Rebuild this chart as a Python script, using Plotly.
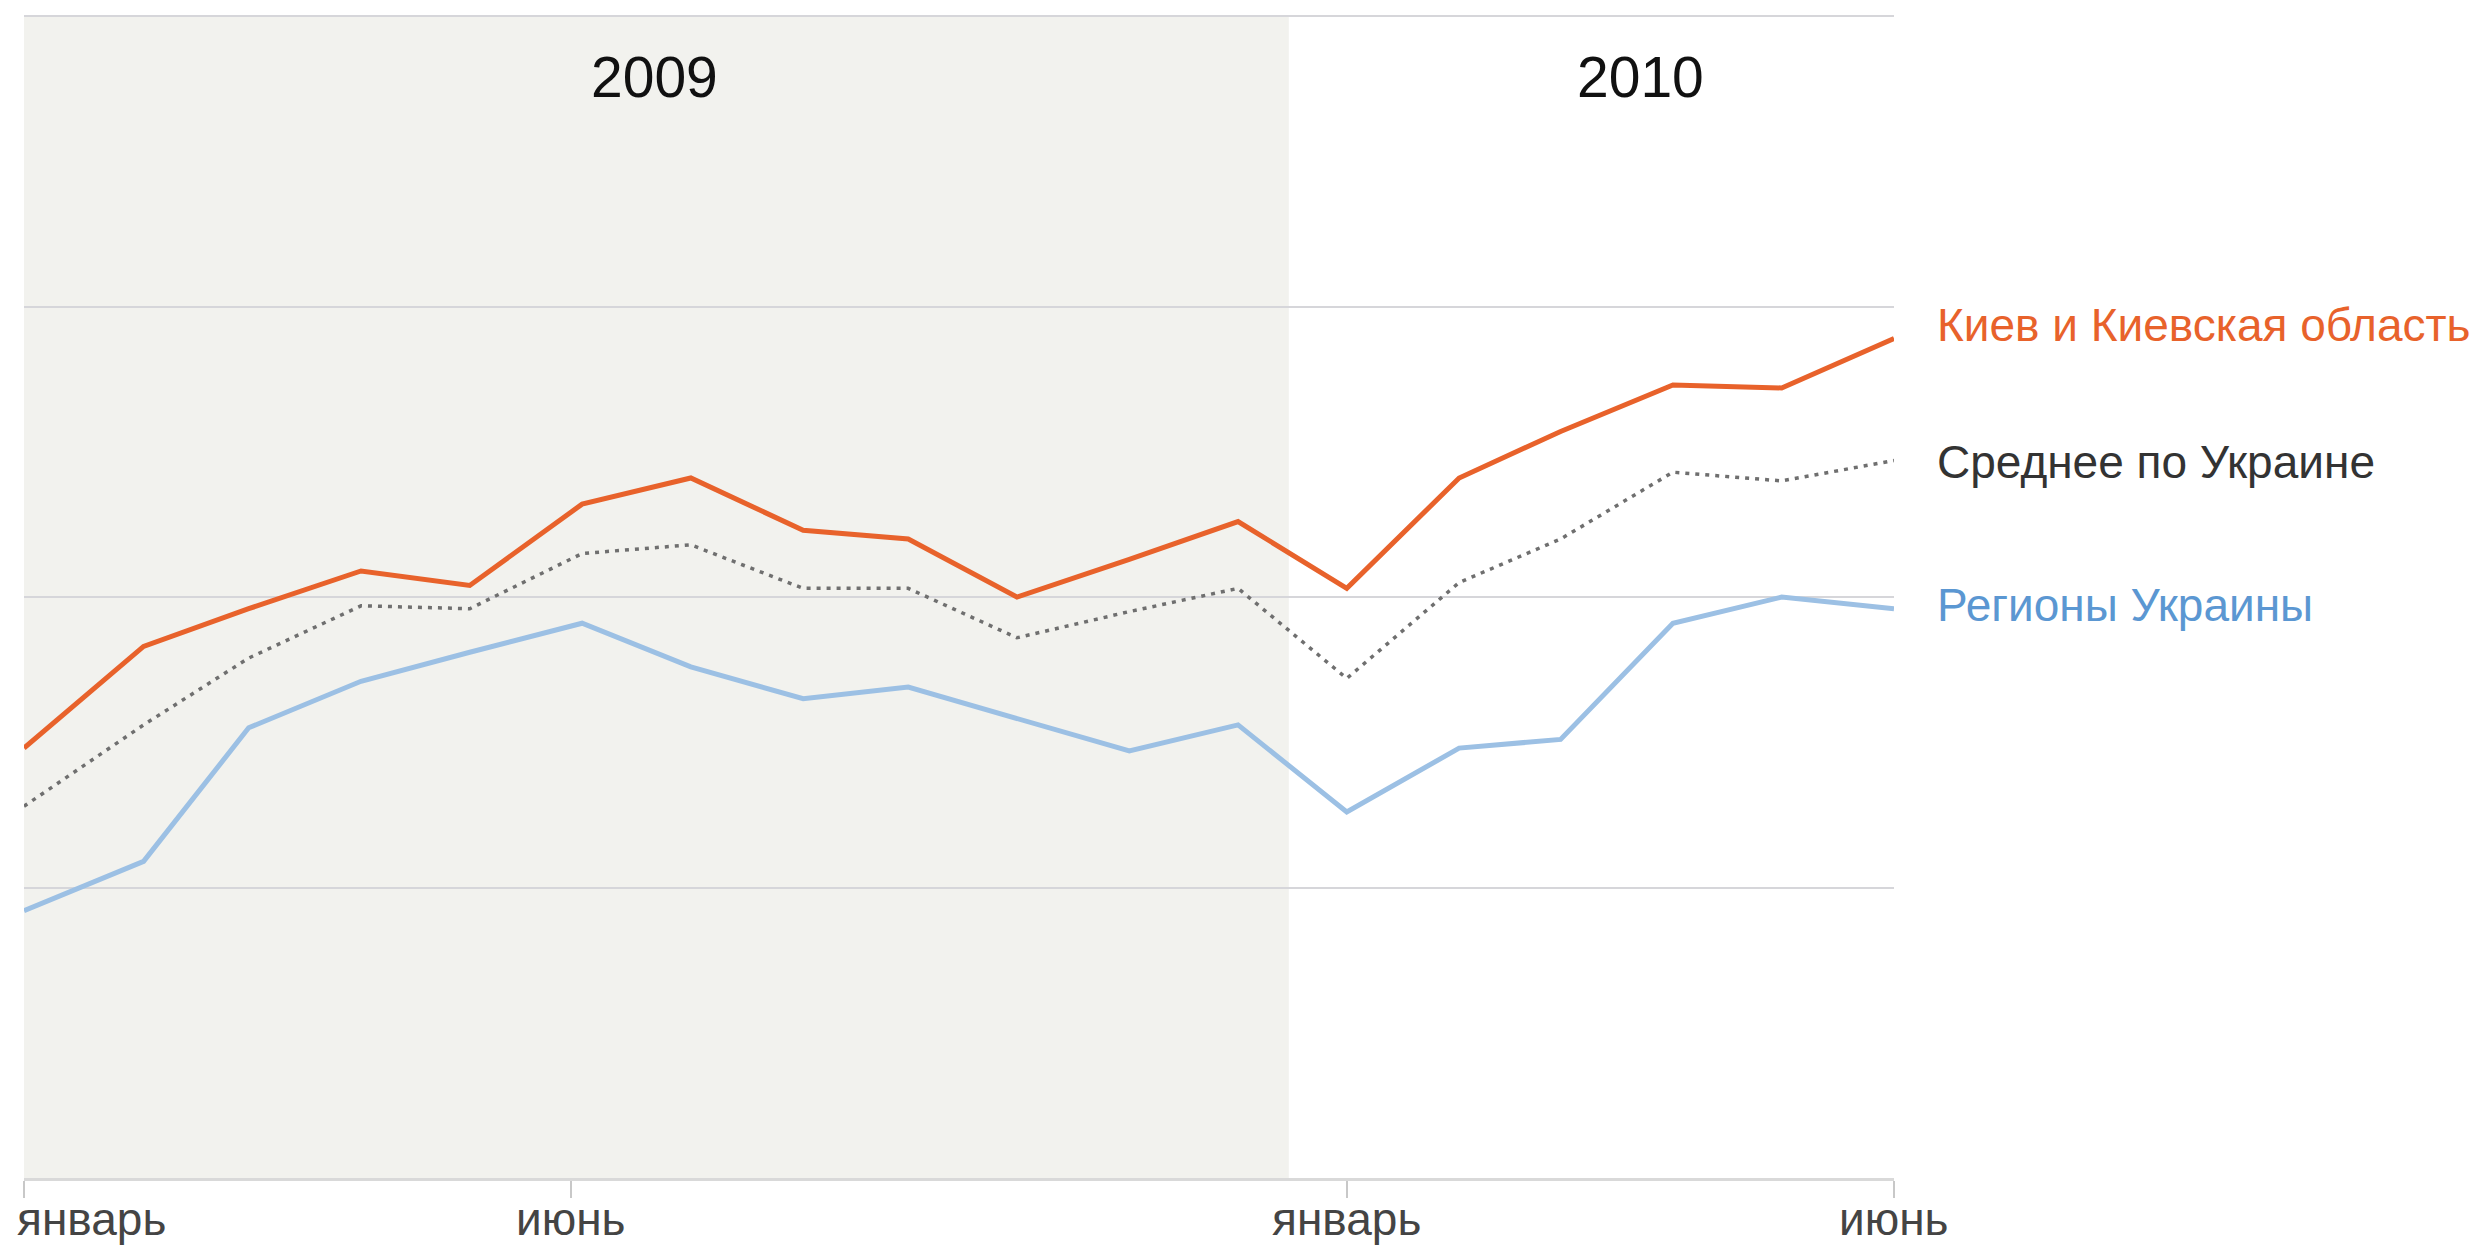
import plotly.graph_objects as go

# ---- data ----
dates = ["2009-01-01", "2009-02-03", "2009-03-04", "2009-04-04", "2009-05-04", "2009-06-04",
         "2009-07-04", "2009-08-04", "2009-09-02", "2009-10-02", "2009-11-02", "2009-12-02",
         "2010-01-01", "2010-02-01", "2010-03-01", "2010-04-01", "2010-05-01", "2010-06-01"]
kiev = [1.48, 1.83, 1.96, 2.09, 2.04, 2.32, 2.41, 2.23, 2.20, 2.00, 2.13, 2.26,
        2.03, 2.41, 2.57, 2.73, 2.72, 2.89]
average = [1.28, 1.56, 1.79, 1.97, 1.96, 2.15, 2.18, 2.03, 2.03, 1.86, 1.95, 2.03,
           1.72, 2.05, 2.20, 2.43, 2.40, 2.47]
regions = [0.92, 1.09, 1.55, 1.71, 1.81, 1.91, 1.76, 1.65, 1.69, 1.58, 1.47, 1.56,
           1.26, 1.48, 1.51, 1.91, 2.00, 1.96]

series_names = ["Киев и Киевская область", "Среднее по Украине", "Регионы Украины"]
tick_dates = ["2009-01-01", "2009-06-01", "2010-01-01", "2010-06-01"]
tick_text = ["январь", "июнь", "январь", "июнь"]
years = ["2009", "2010"]
grid_vals = [1, 2, 3, 4]

# ---- styles ----
FONT = "Liberation Sans, Arial, sans-serif"
C_KIEV = "#e8622b"
C_AVG_LINE = "#6f6f6f"
C_AVG_TEXT = "#333333"
C_REG_LINE = "#9cc0e4"
C_REG_TEXT = "#5b97d2"

fig = go.Figure()
fig.add_trace(go.Scatter(x=dates, y=regions, mode="lines", name=series_names[2],
                         line=dict(color=C_REG_LINE, width=5)))
fig.add_trace(go.Scatter(x=dates, y=average, mode="lines", name=series_names[1],
                         line=dict(color=C_AVG_LINE, width=3.5, dash="4px,6px")))
fig.add_trace(go.Scatter(x=dates, y=kiev, mode="lines", name=series_names[0],
                         line=dict(color=C_KIEV, width=5)))

# shaded 2009 band
fig.add_shape(type="rect", xref="x", yref="paper", x0="2008-12-30", x1="2009-12-16",
              y0=0, y1=1, fillcolor="#f2f2ee", line=dict(width=0), layer="below")

annotations = []
# year labels
for yr, xd in zip(years, ["2009-06-24", "2010-03-23"]):
    annotations.append(dict(x=xd, y=3.79, xref="x", yref="y", text=yr,
                            showarrow=False, font=dict(family=FONT, size=57, color="#111111"),
                            xanchor="center", yanchor="middle"))
# month tick labels
for i, (d, t) in enumerate(zip(tick_dates, tick_text)):
    annotations.append(dict(x=d, y=-0.035, xref="x", yref="paper", text=t, showarrow=False,
                            font=dict(family=FONT, size=46, color="#444444"),
                            xanchor="left" if i == 0 else "center", yanchor="middle",
                            xshift=-9 if i == 0 else 0))
# series labels at line ends
label_y = [2.937, 2.466, 1.974]
label_colors = [C_KIEV, C_AVG_TEXT, C_REG_TEXT]
for name, yv, col in zip(series_names, label_y, label_colors):
    annotations.append(dict(x=dates[-1], y=yv, xref="x", yref="y", text=name, showarrow=False,
                            font=dict(family=FONT, size=46, color=col),
                            xanchor="left", yanchor="middle", xshift=41))

fig.update_layout(
    width=2485, height=1246,
    margin=dict(l=24, r=591, t=15, b=68),
    paper_bgcolor="white", plot_bgcolor="white",
    showlegend=False,
    annotations=annotations,
    xaxis=dict(type="date", range=["2009-01-01", "2010-06-01"], showgrid=False,
               zeroline=False, showline=True, linecolor="#d9d9d9", linewidth=3,
               ticks="outside", ticklen=17, tickwidth=2, tickcolor="#c8c8c8",
               tickmode="array", tickvals=tick_dates, showticklabels=False),
    yaxis=dict(range=[0, 4.004], tickmode="array", tickvals=grid_vals, showgrid=True,
               gridcolor="#d6d6da", gridwidth=2, zeroline=False, showline=False,
               showticklabels=False),
)

fig.write_html("out.html", config={"displayModeBar": False},
               post_script="document.body.style.margin='0px';document.body.style.overflow='hidden';")
